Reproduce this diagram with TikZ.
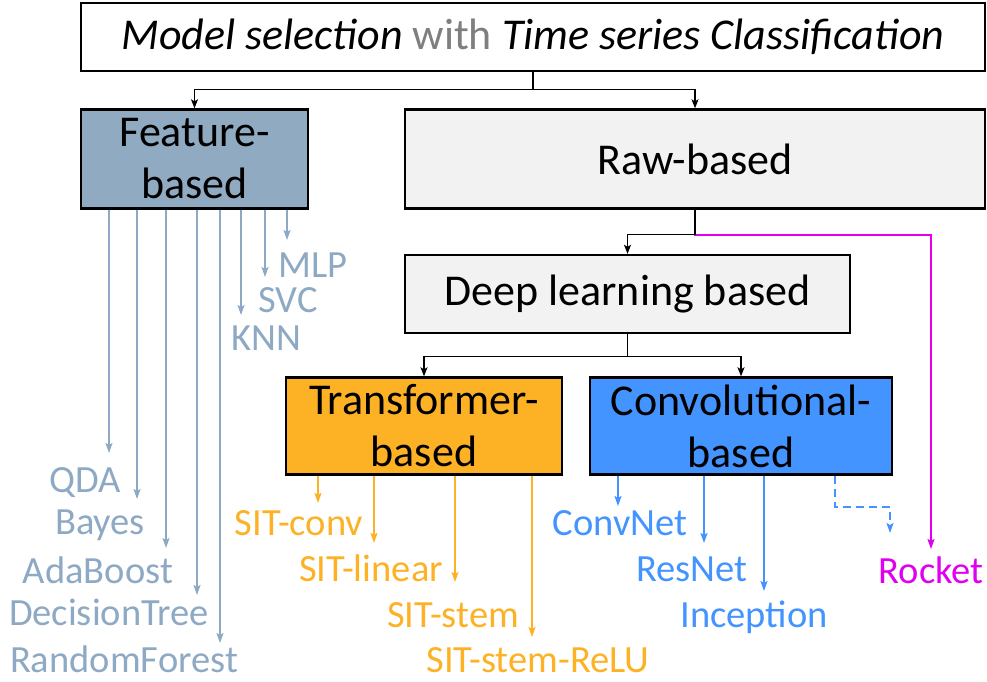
\documentclass[tikz,border=0pt]{standalone}
\usepackage{fontspec}
\setmainfont{Carlito}
\usetikzlibrary{arrows.meta}
\definecolor{featfill}{HTML}{8FAAC1}
\definecolor{featlab}{HTML}{8EA9C3}
\definecolor{rawfill}{HTML}{F2F2F2}
\definecolor{orng}{HTML}{FDB124}
\definecolor{blu}{HTML}{4494FF}
\definecolor{mgnt}{HTML}{E000F0}
\definecolor{withgray}{HTML}{7F7F7F}
\begin{document}
\begin{tikzpicture}[x=1pt,y=-1pt,
  box/.style={draw=black,line width=2.4pt,inner sep=0pt,align=center,font=\fontsize{44}{52}\selectfont},
  lab/.style={inner sep=0pt,font=\fontsize{38.5}{46}\selectfont},
  conn/.style={line width=1.4pt,-{Stealth[length=9pt,width=7pt,inset=2pt]}},
  carrow/.style={line width=1.8pt,-{Stealth[length=10pt,width=7pt,inset=2pt]}}]
\useasboundingbox (0,0) rectangle (987,681);

% boxes
\node[box,minimum width=904pt,minimum height=68pt] (title) at (533,37)
  {\itshape Model selection \textcolor{withgray}{\upshape with} Time series Classification};
\node[box,fill=featfill,minimum width=227pt,minimum height=99pt] (feat) at (194.5,159) {Feature-\\based};
\node[box,fill=rawfill,minimum width=580pt,minimum height=99pt] (raw) at (695,159) {Raw-based};
\node[box,fill=rawfill,minimum width=445pt,minimum height=78pt] (deep) at (627.5,294) {Deep learning based};
\node[box,fill=orng,minimum width=276pt,minimum height=97pt] (trans) at (424,426) {Transformer-\\based};
\node[box,fill=blu,minimum width=302pt,minimum height=97pt] (conv) at (741,426) {Convolutional-\\based};

% tree connectors
\draw[conn] (title.south) -- ++(0,17) -| (feat.north);
\draw[conn] (title.south) -- ++(0,17) -| (raw.north);
\coordinate (rocketend) at (931,549);
\draw[carrow,mgnt] (raw.south) -- ++(0,25) -| (rocketend);
\draw[conn] (raw.south) -- ++(0,25) -| (deep.north);
\draw[conn] (deep.south) -- ++(0,22) -| (trans.north);
\draw[conn] (deep.south) -- ++(0,22) -| (conv.north);

% feature-based models
\coordinate (fe1) at (109,453);
\coordinate (fe2) at (137,499);
\coordinate (fe3) at (166,548);
\coordinate (fe4) at (197,595);
\coordinate (fe5) at (220,643);
\coordinate (fe6) at (241,315);
\coordinate (fe7) at (265,277);
\coordinate (fe8) at (287,240);
\foreach \i in {1,...,8} \draw[carrow,featlab] (feat.south -| fe\i) -- (fe\i);
\node[lab,text=featlab] (qda) at (85,483) {QDA};
\node[lab,text=featlab] (bayes) at (100,525) {Bayes};
\node[lab,text=featlab] (ada) at (98,570) {AdaBoost};
\node[lab,text=featlab] (dt) at (109,612) {DecisionTree};
\node[lab,text=featlab] (rf) at (124,659) {RandomForest};
\node[lab,text=featlab] (knn) at (266,338) {KNN};
\node[lab,text=featlab] (svc) at (288,300) {SVC};
\node[lab,text=featlab] (mlp) at (313,265) {MLP};

% transformer-based
\coordinate (te1) at (318,503);
\coordinate (te2) at (374,543);
\coordinate (te3) at (455,582);
\coordinate (te4) at (532,637);
\foreach \i in {1,...,4} \draw[carrow,orng] (trans.south -| te\i) -- (te\i);
\node[lab,text=orng] (sc) at (299,523) {SIT-conv};
\node[lab,text=orng] (sl) at (371,568) {SIT-linear};
\node[lab,text=orng] (ss) at (453,615) {SIT-stem};
\node[lab,text=orng] (ssr) at (538,660) {SIT-stem-ReLU};

% convolutional-based
\coordinate (ce1) at (618,506);
\coordinate (ce2) at (704,543);
\coordinate (ce3) at (764,591);
\foreach \i in {1,...,3} \draw[carrow,blu] (conv.south -| ce\i) -- (ce\i);
\node[lab,text=blu] (cn) at (620,523) {ConvNet};
\node[lab,text=blu] (rn) at (692,569) {ResNet};
\node[lab,text=blu] (inc) at (754,617) {Inception};
\coordinate (dx) at (835,0);
\coordinate (dend) at (890,533);
\draw[carrow,blu,dashed,dash pattern=on 8pt off 5pt] (conv.south -| dx) -- ++(0,31) -| (dend);

\node[lab,text=mgnt] (rocket) at (931,570) {Rocket};
\end{tikzpicture}
\end{document}
